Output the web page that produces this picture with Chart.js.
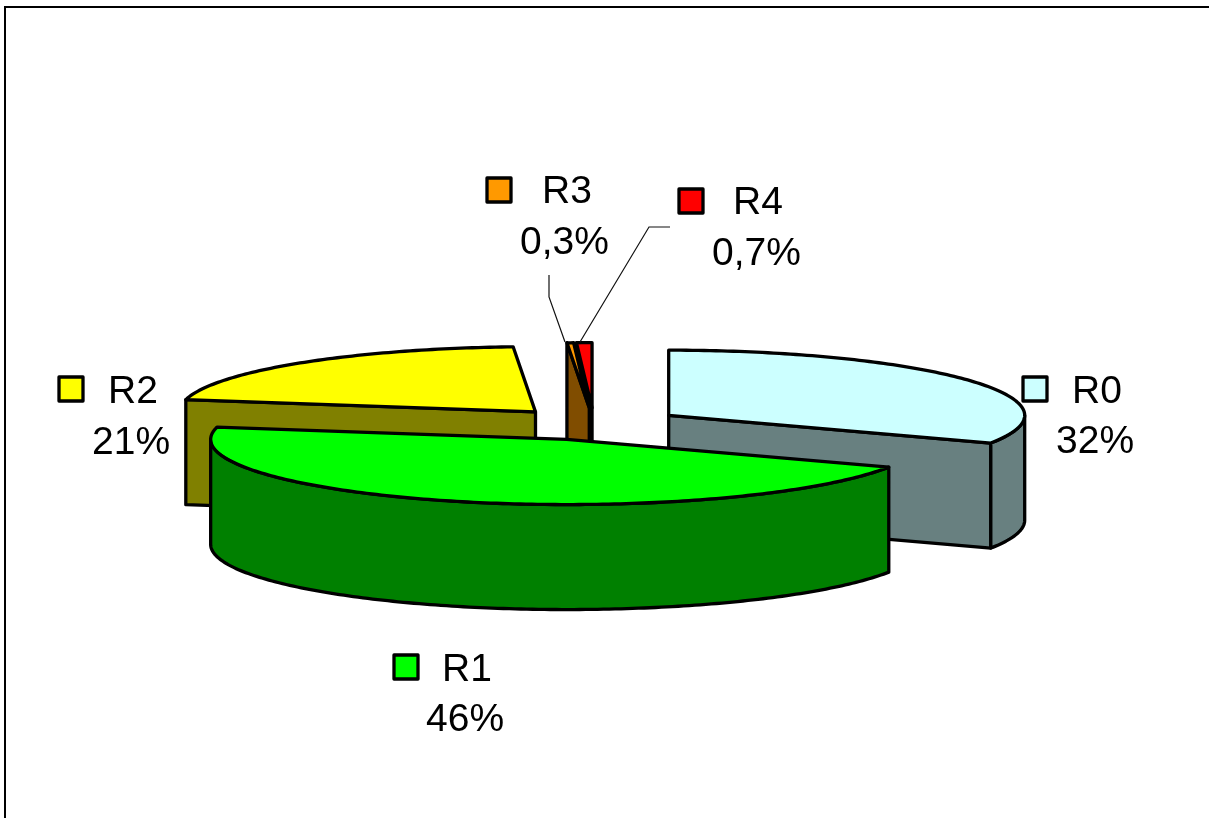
<!DOCTYPE html>
<html>
<head>
<meta charset="utf-8">
<style>html,body{margin:0;padding:0;background:#fff}canvas{display:block}</style>
<script src="https://cdn.jsdelivr.net/npm/chart.js@4"></script>
</head>
<body>
<canvas id="c" width="1209" height="818"></canvas>
<script>
const categories = ['R0', 'R1', 'R2', 'R3', 'R4'];
const values = [32, 46, 21, 0.3, 0.7];
const valueLabels = ['32%', '46%', '21%', '0,3%', '0,7%'];
const topColors = ['#CCFFFF', '#00FF00', '#FFFF00', '#FF9900', '#FF0000'];
const sideColors = ['#688080', '#008000', '#808000', '#804D00', '#800000'];
const explode = 90.4;

// projection of the flat pie onto the page
const CX = 594, CY = 424, RX = 356, TILT = 0.183, DEPTH = 105;
const FONT = '39px "Liberation Sans", Arial, sans-serif';
const labelLayout = [
  {key:[1022,376], name:[1072,403], pct:[1056,453]},
  {key:[393,654],  name:[442,681],  pct:[426,731]},
  {key:[58,376],   name:[108,403],  pct:[92,454]},
  {key:[486,177],  name:[542,203],  pct:[520,254]},
  {key:[678,188],  name:[733,214],  pct:[712,265]}
];
const leaders = [
  [[549,275],[549,297],[565,342]],
  [[670,227],[649,227],[580,342]]
];
const paintOrder = [4, 3, 2, 0, 1];

const pie3d = {
  id: 'pie3d',
  beforeDatasetDraw(chart) {
    const ctx = chart.ctx;
    const arcs = chart.getDatasetMeta(0).data;
    const s = RX / arcs[0].outerRadius;
    ctx.save();
    ctx.lineWidth = 3.3;
    ctx.lineJoin = 'round';
    ctx.strokeStyle = '#000';
    const poly = (pts, fill) => {
      ctx.beginPath();
      pts.forEach((p, i) => i ? ctx.lineTo(p[0], p[1]) : ctx.moveTo(p[0], p[1]));
      ctx.closePath();
      ctx.fillStyle = fill;
      ctx.fill();
      ctx.stroke();
    };
    for (const i of paintOrder) {
      const a = arcs[i];
      const a0 = a.startAngle, a1 = a.endAngle, mid = (a0 + a1) / 2;
      const off = a.options.offset * s;
      const ax = CX + Math.cos(mid) * off;
      const ay = CY + Math.sin(mid) * off * TILT;
      const P = (t, d = 0) => [ax + RX * Math.cos(t), ay + RX * TILT * Math.sin(t) + d];
      const arcPts = (from, to, d = 0) => {
        const n = Math.max(2, Math.ceil((to - from) * 60));
        const r = [];
        for (let k = 0; k <= n; k++) r.push(P(from + (to - from) * k / n, d));
        return r;
      };
      const radial = t => poly([[ax, ay], P(t), P(t, DEPTH), [ax, ay + DEPTH]], sideColors[i]);
      if (Math.cos(a0) < -1e-6) radial(a0);
      if (Math.cos(a1) > 1e-6) radial(a1);
      const r0 = Math.max(a0, 0), r1 = Math.min(a1, Math.PI);
      if (r1 > r0) {
        poly(arcPts(r0, r1).concat(arcPts(r0, r1, DEPTH).reverse()), sideColors[i]);
      }
      poly([[ax, ay]].concat(arcPts(a0, a1)), topColors[i]);
    }
    ctx.restore();
    return false;
  },
  afterDatasetsDraw(chart) {
    const ctx = chart.ctx;
    ctx.save();
    // chart frame
    ctx.strokeStyle = '#000';
    ctx.lineWidth = 2;
    ctx.beginPath();
    ctx.moveTo(5, 818); ctx.lineTo(5, 7); ctx.lineTo(1209, 7);
    ctx.stroke();
    // leader lines
    ctx.lineWidth = 1.2;
    ctx.strokeStyle = '#111';
    leaders.forEach(l => {
      ctx.beginPath();
      l.forEach((p, i) => i ? ctx.lineTo(p[0], p[1]) : ctx.moveTo(p[0], p[1]));
      ctx.stroke();
    });
    // labels with legend keys
    ctx.font = FONT;
    ctx.textAlign = 'left';
    ctx.textBaseline = 'alphabetic';
    categories.forEach((name, i) => {
      const L = labelLayout[i];
      ctx.fillStyle = topColors[i];
      ctx.strokeStyle = '#000';
      ctx.lineWidth = 3.3;
      ctx.lineJoin = 'round';
      ctx.fillRect(L.key[0] + 1, L.key[1] + 1, 24, 24);
      ctx.strokeRect(L.key[0] + 1, L.key[1] + 1, 24, 24);
      ctx.fillStyle = '#000';
      ctx.fillText(name, L.name[0], L.name[1]);
      ctx.fillText(valueLabels[i], L.pct[0], L.pct[1]);
    });
    ctx.restore();
  }
};

new Chart(document.getElementById('c'), {
  type: 'pie',
  data: {
    labels: categories,
    datasets: [{
      data: values,
      backgroundColor: topColors,
      borderColor: '#000',
      borderWidth: 0,
      offset: explode
    }]
  },
  options: {
    responsive: false,
    animation: false,
    devicePixelRatio: 1,
    layout: {padding: 0},
    plugins: {legend: {display: false}, tooltip: {enabled: false}}
  },
  plugins: [pie3d]
});
</script>
</body>
</html>
